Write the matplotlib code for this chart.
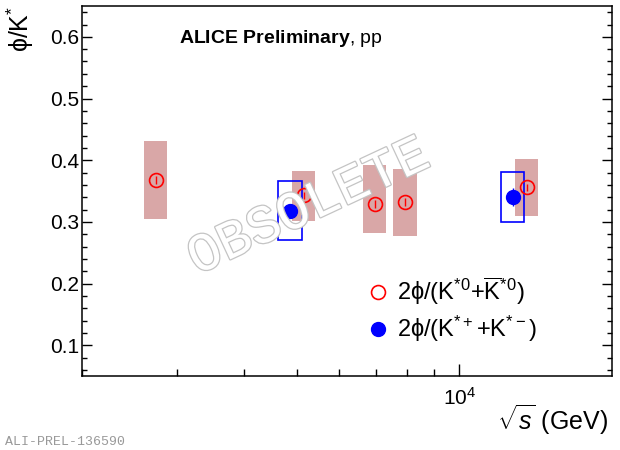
import matplotlib
matplotlib.use("Agg")
import matplotlib.pyplot as plt
import matplotlib.patheffects as pe
from matplotlib.ticker import MultipleLocator, LogLocator, NullFormatter
from matplotlib.lines import Line2D

plt.rcParams["font.family"] = ["Liberation Sans", "DejaVu Sans"]
plt.rcParams["mathtext.fontset"] = "custom"
plt.rcParams["mathtext.rm"] = "Liberation Sans"
plt.rcParams["mathtext.it"] = "Liberation Sans:italic"
plt.rcParams["mathtext.bf"] = "Liberation Sans:bold"

# phi/K*0 (neutral), red open circles
neutral_x = [2740, 5150, 6970, 7940, 13340]
neutral_y = [0.368, 0.343, 0.329, 0.332, 0.356]
neutral_stat = [0.006, 0.006, 0.006, 0.006, 0.006]
neutral_sys_lo = [0.3045, 0.302, 0.282, 0.2764, 0.310]
neutral_sys_hi = [0.431, 0.383, 0.3926, 0.386, 0.402]

# phi/K*+- (charged), blue filled circles
charged_x = [4860, 12570]
charged_y = [0.318, 0.340]
charged_stat = [0.010, 0.0146]
charged_sys_lo = [0.270, 0.299]
charged_sys_hi = [0.367, 0.381]

box_w = 1.051  # multiplicative half-width of systematic boxes on log x

fig = plt.figure(figsize=(6.2, 4.5), dpi=100)
ax = fig.add_axes([82 / 620, 1 - 376 / 450, 530 / 620, 370 / 450])

# systematic boxes
for x, lo, hi in zip(neutral_x, neutral_sys_lo, neutral_sys_hi):
    ax.bar(x / box_w, hi - lo, width=x * box_w - x / box_w, bottom=lo,
           align="edge", color="#d9a7a7", edgecolor="none", zorder=1)
for x, lo, hi in zip(charged_x, charged_sys_lo, charged_sys_hi):
    ax.bar(x / box_w, hi - lo, width=x * box_w - x / box_w, bottom=lo,
           align="edge", color="none", edgecolor="#0000ff", linewidth=1.2,
           zorder=2)

ax.errorbar(neutral_x, neutral_y, yerr=neutral_stat, fmt="o", mfc="none",
            mec="#ff0000", ecolor="#ff0000", ms=10, mew=1.2, elinewidth=1.0,
            capsize=0, zorder=4)
ax.errorbar(charged_x, charged_y, yerr=charged_stat, fmt="o", mfc="#0000ff",
            mec="#0000ff", ecolor="#0000ff", ms=10, mew=1.0, elinewidth=1.0,
            capsize=0, zorder=3)

ax.set_xscale("log")
ax.set_xlim(2000, 19200)
ax.set_ylim(0.05, 0.65)

ax.xaxis.set_major_locator(LogLocator(base=10))
ax.xaxis.set_minor_locator(LogLocator(base=10, subs=range(2, 10)))
ax.xaxis.set_minor_formatter(NullFormatter())
ax.yaxis.set_major_locator(MultipleLocator(0.1))
ax.yaxis.set_minor_locator(MultipleLocator(0.02))
ax.yaxis.set_major_formatter(plt.FuncFormatter(lambda v, p: f"{v:.1f}"))

ax.tick_params(axis="both", which="both", direction="in", labelsize=15)
ax.tick_params(axis="y", which="both", left=True, right=True)
ax.tick_params(axis="y", which="major", length=7, width=1, pad=2)
ax.tick_params(axis="y", which="minor", length=3.7, width=1)
ax.tick_params(axis="x", which="major", length=9, width=1, pad=8)
ax.tick_params(axis="x", which="minor", length=4.7, width=1)
for s in ax.spines.values():
    s.set_linewidth(1.1)

fig.text(608 / 620, 1 - 430 / 450, r"$\sqrt{s}$ (GeV)", fontsize=18,
         ha="right", va="baseline")
fig.text(20 / 620, 1 - 6 / 450, r"ϕ/K$^{*}$", fontsize=18,
         rotation=90, ha="center", va="top")

ax.text(0.183, 0.9, r"$\mathbf{ALICE\ Preliminary}$, pp", transform=ax.transAxes,
        fontsize=14, ha="left", va="baseline")

handles = [
    Line2D([], [], ls="none", marker="o", mfc="none", mec="#ff0000", ms=10, mew=1.2),
    Line2D([], [], ls="none", marker="o", mfc="#0000ff", mec="#0000ff", ms=10),
]
labels = [r"2ϕ/(K$^{*0}$+$\overline{\mathrm{K}}^{*0}$)",
          r"2ϕ/(K$^{*+}$+K$^{*-}$)"]
ax.legend(handles, labels, loc="upper left", bbox_to_anchor=(0.52, 0.297),
          frameon=False, fontsize=17, handlelength=0.9, handletextpad=0.35,
          labelspacing=0.28, borderaxespad=0)

ax.text(0.428, 0.456, "OBSOLETE", transform=ax.transAxes, fontsize=39,
        family="Liberation Mono", color="white",
        rotation=25, ha="center", va="center", zorder=10,
        path_effects=[pe.Stroke(linewidth=1.8, foreground="#c4c4c4"), pe.Normal()])

fig.text(5 / 620, 1 - 445 / 450, "ALI-PREL-136590", fontsize=9.5,
         family="Liberation Mono", color="#999999", ha="left", va="baseline")

fig.savefig("out.png", dpi=100)
